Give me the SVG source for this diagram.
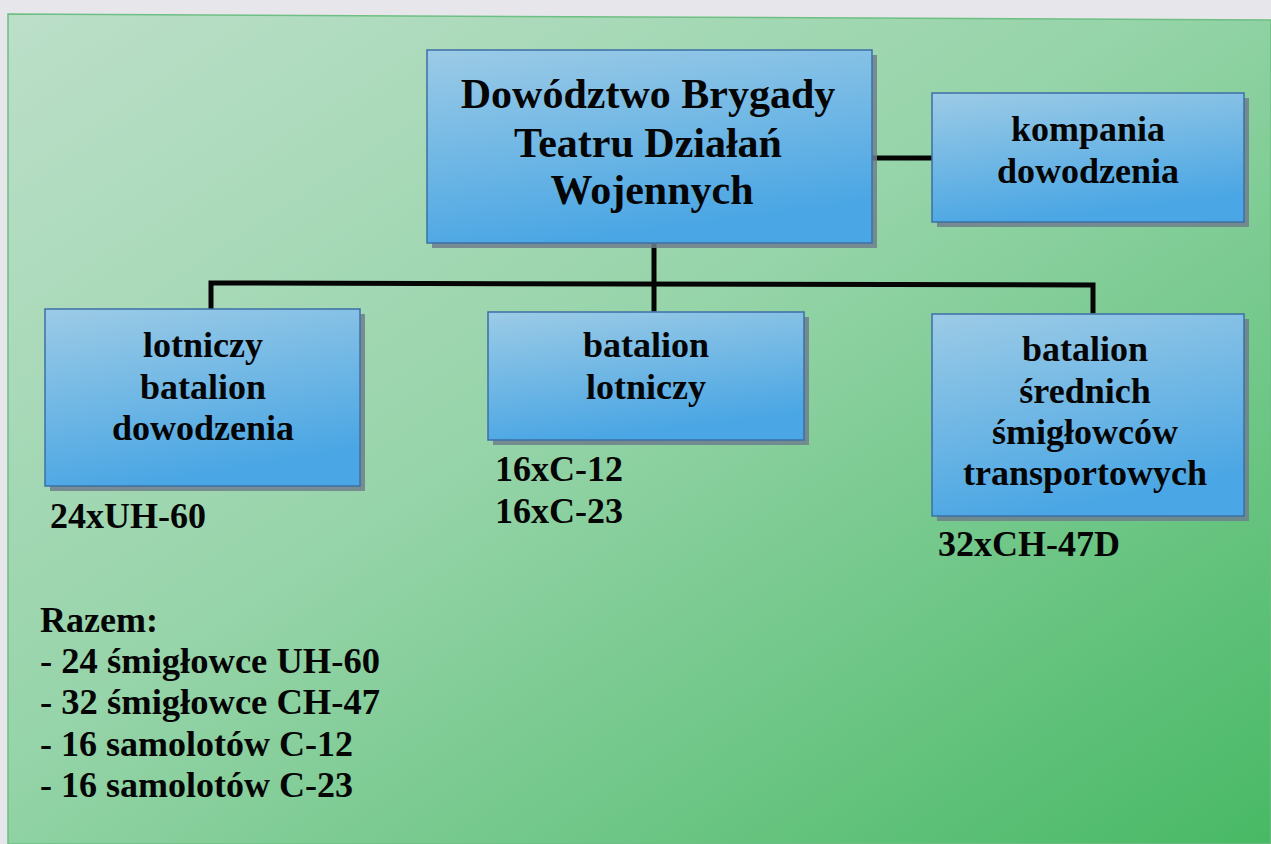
<svg xmlns="http://www.w3.org/2000/svg" width="1271" height="844" viewBox="0 0 1271 844">
  <defs>
    <linearGradient id="panelFill" x1="0" y1="0" x2="1" y2="1">
      <stop offset="0" stop-color="#bcdfc9"/>
      <stop offset="0.45" stop-color="#96d4a9"/>
      <stop offset="1" stop-color="#48b965"/>
    </linearGradient>
    <linearGradient id="boxFill" x1="0" y1="0" x2="0.3" y2="1">
      <stop offset="0" stop-color="#9ccbe6"/>
      <stop offset="1" stop-color="#4aa6e4"/>
    </linearGradient>
    <style>
      .box { fill: url(#boxFill); stroke: #3d6fa6; stroke-width: 1.5; }
      .shadow { fill: #6f7f8c; opacity: 0.85; }
      .label { font-family: "Liberation Serif", "Times New Roman", serif; font-weight: bold; fill: #050505; }
      .title { font-size: 42px; text-anchor: middle; }
      .name { font-size: 36px; text-anchor: middle; }
      .note { font-size: 36px; }
      .conn { stroke: #050505; stroke-width: 5; fill: none; stroke-linecap: square; }
    </style>
  </defs>

  <!-- page and green panel -->
  <rect x="0" y="0" width="1271" height="844" fill="#e7e7eb"/>
  <polygon points="8,14 1271,20 1271,844 8,844" fill="url(#panelFill)" stroke="#6fbf84" stroke-width="1.5"/>

  <!-- connectors -->
  <g id="connectors">
    <line class="conn" x1="874" y1="158" x2="930" y2="158"/>
    <line class="conn" x1="654" y1="246" x2="654" y2="309"/>
    <polyline class="conn" points="211,307 211,283 1093,285 1093,311"/>
  </g>

  <!-- command -->
  <g id="node-command">
    <rect class="shadow" x="432" y="55" width="445" height="193"/>
    <rect class="box" x="427" y="50" width="445" height="193"/>
    <text class="label title" x="648" y="108">Dowództwo Brygady</text>
    <text class="label title" x="648" y="157">Teatru Działań</text>
    <text class="label title" x="652" y="204">Wojennych</text>
  </g>

  <g id="node-hq-company">
    <rect class="shadow" x="937" y="98" width="312" height="129"/>
    <rect class="box" x="932" y="93" width="312" height="129"/>
    <text class="label name" x="1088" y="141">kompania</text>
    <text class="label name" x="1088" y="183">dowodzenia</text>
  </g>

  <g id="node-command-battalion">
    <rect class="shadow" x="50" y="314" width="315" height="177"/>
    <rect class="box" x="45" y="309" width="315" height="177"/>
    <text class="label name" x="203" y="357">lotniczy</text>
    <text class="label name" x="203" y="399">batalion</text>
    <text class="label name" x="203" y="440">dowodzenia</text>
  </g>

  <g id="node-aviation-battalion">
    <rect class="shadow" x="493" y="317" width="316" height="128"/>
    <rect class="box" x="488" y="312" width="316" height="128"/>
    <text class="label name" x="646" y="357">batalion</text>
    <text class="label name" x="646" y="399">lotniczy</text>
  </g>

  <g id="node-transport-battalion">
    <rect class="shadow" x="937" y="319" width="312" height="202"/>
    <rect class="box" x="932" y="314" width="312" height="202"/>
    <text class="label name" x="1085" y="361">batalion</text>
    <text class="label name" x="1085" y="403">średnich</text>
    <text class="label name" x="1085" y="444">śmigłowców</text>
    <text class="label name" x="1085" y="485">transportowych</text>
  </g>

  <!-- equipment counts -->
  <g id="counts">
    <text class="label note" x="50" y="528">24xUH-60</text>
    <text class="label note" x="495" y="481">16xC-12</text>
    <text class="label note" x="495" y="523">16xC-23</text>
    <text class="label note" x="938" y="556">32xCH-47D</text>
  </g>

  <g id="totals">
    <text class="label note" x="40" y="632">Razem:</text>
    <text class="label note" x="40" y="673" textLength="340" lengthAdjust="spacingAndGlyphs">- 24 śmigłowce UH-60</text>
    <text class="label note" x="40" y="714" textLength="340" lengthAdjust="spacingAndGlyphs">- 32 śmigłowce CH-47</text>
    <text class="label note" x="40" y="756">- 16 samolotów C-12</text>
    <text class="label note" x="40" y="797">- 16 samolotów C-23</text>
  </g>
</svg>
